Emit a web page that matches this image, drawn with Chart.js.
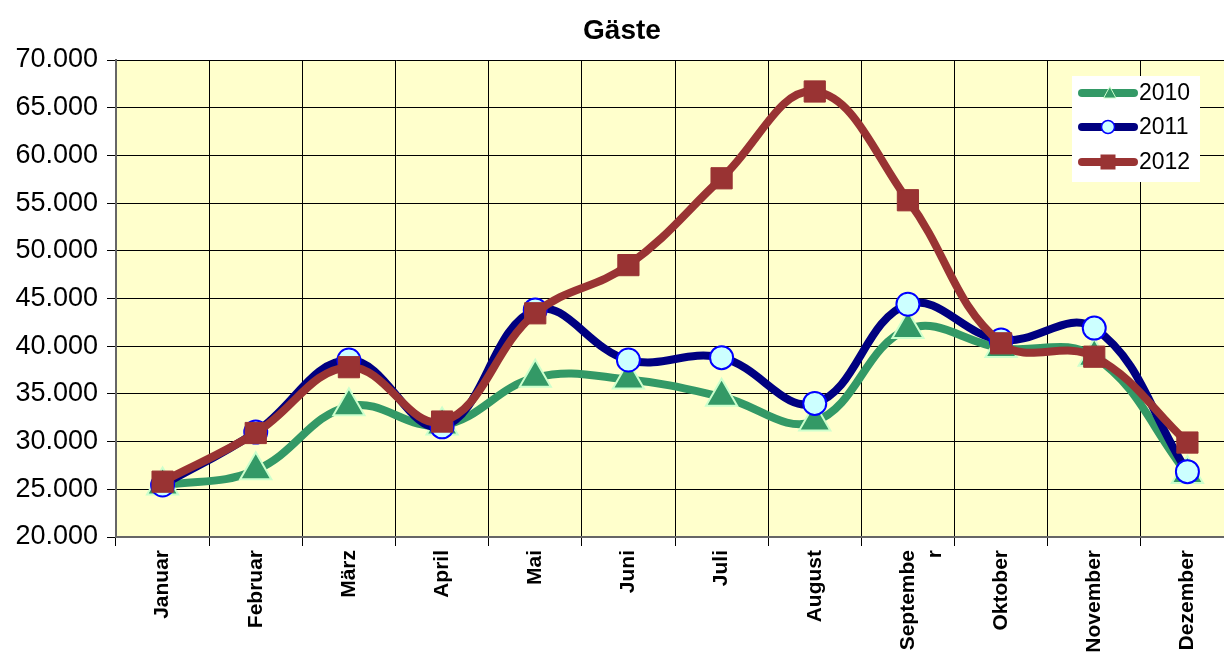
<!DOCTYPE html>
<html>
<head>
<meta charset="utf-8">
<script src="https://cdn.jsdelivr.net/npm/chart.js@4/dist/chart.umd.min.js"></script>
<style>
html,body{margin:0;padding:0;overflow:hidden;background:#fff;width:1224px;height:652px;}
#wrap{width:1224px;height:652px;position:relative;overflow:hidden;}
canvas{display:block;}
</style>
</head>
<body>
<div id="wrap"><canvas id="c" width="1254" height="652" style="width:1254px;height:652px;"></canvas></div>
<script>
const categories = ['Januar','Februar','März','April','Mai','Juni','Juli','August',['Septembe','r'],'Oktober','November','Dezember'];
const seriesNames = ['2010','2011','2012'];
const values2010 = [25400, 27000, 33700, 31700, 36700, 36500, 34700, 32100, 41800, 39800, 38900, 26600];
const values2011 = [25450, 31000, 38550, 31550, 43800, 38550, 38800, 34000, 44400, 40650, 41900, 26850];
const values2012 = [25800, 30900, 37800, 32100, 43450, 48500, 57600, 66700, 55300, 40300, 38900, 29900];
const yTicks = [20000, 25000, 30000, 35000, 40000, 45000, 50000, 55000, 60000, 65000, 70000];

const FONT = "'Liberation Sans', Arial, sans-serif";
function fmt(v){ return String(v).replace(/\B(?=(\d{3})+(?!\d))/g, '.'); }

const plotBg = {
  id: 'plotBg',
  beforeDraw(chart){
    const a = chart.chartArea, ctx = chart.ctx;
    ctx.save();
    ctx.fillStyle = '#FFFFCC';
    ctx.fillRect(a.left, a.top, a.right - a.left, a.bottom - a.top);
    ctx.restore();
  }
};

const boxLegend = {
  id: 'boxLegend',
  afterDraw(chart){
    const ctx = chart.ctx;
    ctx.save();
    ctx.fillStyle = '#ffffff';
    ctx.fillRect(1072, 76, 128, 106);
    const ys = [93, 127, 162];
    [0,1,2].forEach((i, k) => {
      const ds = chart.data.datasets.find(d => d.label === seriesNames[i]);
      const y = ys[k];
      ctx.beginPath();
      ctx.lineCap = 'round';
      ctx.strokeStyle = ds.borderColor;
      ctx.lineWidth = 8;
      ctx.moveTo(1082, y);
      ctx.lineTo(1134, y);
      ctx.stroke();
      const x = 1108;
      if (ds.pointStyle === 'triangle') {
        ctx.beginPath();
        ctx.fillStyle = ds.pointBackgroundColor;
        ctx.strokeStyle = ds.pointBorderColor;
        ctx.lineWidth = 1;
        ctx.moveTo(x + 2, y - 6);
        ctx.lineTo(x + 8, y + 5);
        ctx.lineTo(x - 4, y + 5);
        ctx.closePath();
        ctx.fill();
        ctx.stroke();
      } else if (ds.pointStyle === 'circle') {
        ctx.beginPath();
        ctx.fillStyle = ds.pointBackgroundColor;
        ctx.strokeStyle = ds.pointBorderColor;
        ctx.lineWidth = 1.5;
        ctx.arc(x, y, 6.5, 0, Math.PI * 2);
        ctx.fill();
        ctx.stroke();
      } else {
        ctx.fillStyle = ds.pointBackgroundColor;
        ctx.fillRect(x - 7.5, y - 7.5, 15, 15);
      }
      ctx.fillStyle = '#000';
      ctx.font = '23px ' + FONT;
      ctx.textBaseline = 'middle';
      ctx.textAlign = 'left';
      ctx.fillText(ds.label, 1139, y + 1);
    });
    ctx.restore();
  }
};

new Chart(document.getElementById('c'), {
  type: 'line',
  data: {
    labels: categories,
    datasets: [
      {
        label: seriesNames[0], data: values2010, order: 3,
        borderColor: '#339966', borderWidth: 8, tension: 0.4,
        pointStyle: 'triangle', pointRadius: 18, pointHoverRadius: 18,
        pointBackgroundColor: '#339966', pointBorderColor: '#CCFFCC', pointBorderWidth: 2
      },
      {
        label: seriesNames[1], data: values2011, order: 2,
        borderColor: '#000080', borderWidth: 8, tension: 0.4,
        pointStyle: 'circle', pointRadius: 11.5, pointHoverRadius: 11.5,
        pointBackgroundColor: '#CCFFFF', pointBorderColor: '#0000FF', pointBorderWidth: 2
      },
      {
        label: seriesNames[2], data: values2012, order: 1,
        borderColor: '#993333', borderWidth: 8, tension: 0.4,
        pointStyle: 'rect', pointRadius: 15, pointHoverRadius: 15,
        pointBackgroundColor: '#993333', pointBorderColor: '#993333', pointBorderWidth: 1
      }
    ]
  },
  options: {
    responsive: false,
    maintainAspectRatio: false,
    devicePixelRatio: 1,
    animation: false,
    events: [],
    layout: { padding: { left: 0, right: 10, top: 0, bottom: 0 } },
    plugins: {
      legend: { display: false },
      tooltip: { enabled: false },
      title: {
        display: true, text: 'Gäste', color: '#000',
        font: { family: FONT, size: 28, weight: 'bold', lineHeight: 1.2 },
        padding: { top: 14.2, bottom: 12.2 }
      }
    },
    scales: {
      x: {
        offset: true,
        grid: { offset: true, color: '#000', lineWidth: 1, tickLength: 9, drawTicks: true },
        border: { color: '#666', width: 2 },
        ticks: {
          color: '#000', maxRotation: 90, minRotation: 90, autoSkip: false, padding: 4,
          font: { family: FONT, size: 21, weight: 'bold', lineHeight: 1.3 }
        },
        afterFit(scale){ scale.height = 115; }
      },
      y: {
        min: 20000, max: 70000,
        afterBuildTicks(scale){ scale.ticks = yTicks.map(v => ({ value: v })); },
        grid: { color: '#000', lineWidth: 1, tickLength: 9 },
        border: { color: '#666', width: 2 },
        ticks: {
          color: '#000', padding: 9,
          font: { family: FONT, size: 27 },
          callback: (v) => fmt(v)
        },
        afterFit(scale){ scale.width = 116; }
      }
    }
  },
  plugins: [plotBg, boxLegend]
});
</script>
</body>
</html>
